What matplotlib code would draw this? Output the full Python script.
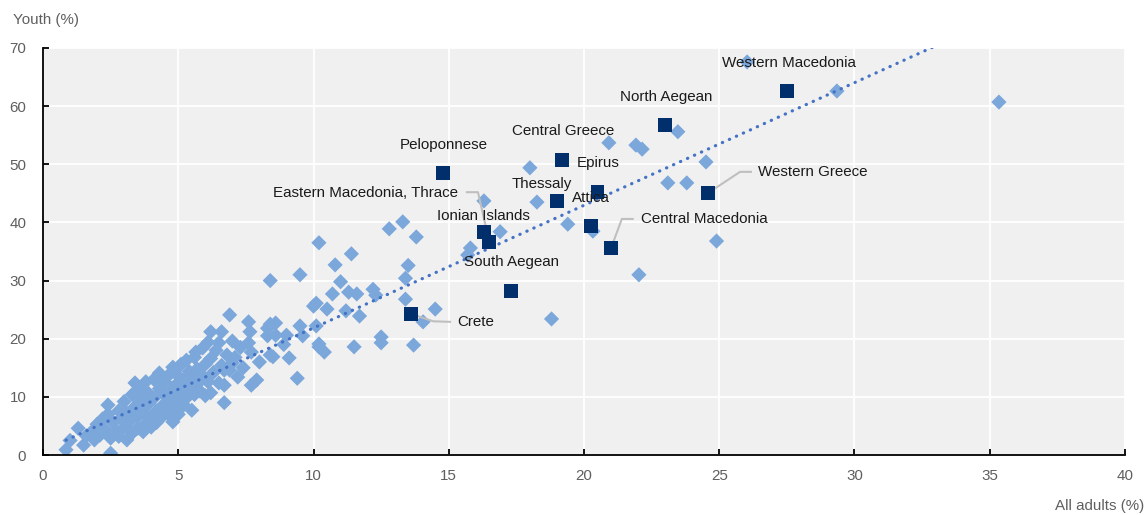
import matplotlib
matplotlib.use("Agg")
import matplotlib.pyplot as plt

plt.rcParams["font.family"] = ["Liberation Sans", "DejaVu Sans"]

# ------------------------------
# Data: OECD regions (diamonds)
# ------------------------------
oecd_cluster = [
    (0.85, 0.9), (1.0, 2.5), (1.3, 4.6), (1.5, 1.7), (1.6, 3.3), (1.8, 4.0),
    (1.9, 2.6), (2.0, 5.3), (2.1, 3.4), (2.2, 6.2), (2.3, 4.4), (2.4, 8.6),
    (2.4, 7.0), (2.5, 0.3), (2.5, 2.9), (2.6, 5.6), (2.7, 4.0), (2.8, 7.6),
    (2.8, 3.2), (2.9, 6.3), (3.0, 9.2), (3.0, 4.8), (3.1, 2.6), (3.1, 7.2),
    (3.2, 5.8), (3.3, 10.4), (3.3, 3.8), (3.4, 12.4), (3.4, 8.3), (3.5, 6.6),
    (3.5, 4.6), (3.6, 9.6), (3.6, 11.2), (3.7, 4.0), (3.7, 7.4), (3.8, 5.4),
    (3.8, 12.6), (3.9, 8.8), (3.9, 10.6), (4.0, 6.3), (4.0, 4.8), (4.1, 9.8),
    (4.1, 13.0), (4.2, 7.6), (4.2, 5.6), (4.3, 14.1), (4.3, 11.4), (4.4, 8.4),
    (4.4, 6.6), (4.5, 10.2), (4.5, 12.6), (4.6, 7.2), (4.6, 9.2), (4.7, 14.0),
    (4.7, 11.0), (4.8, 15.1), (4.8, 5.7), (4.8, 8.2), (4.9, 12.0), (4.9, 9.6),
    (5.0, 13.6), (5.0, 7.0), (5.1, 10.8), (5.1, 15.6), (5.2, 8.6), (5.2, 12.8),
    (5.3, 16.3), (5.3, 9.8), (5.4, 14.4), (5.4, 11.6), (5.5, 7.7), (5.5, 13.2),
    (5.6, 16.8), (5.6, 10.4), (5.65, 17.7), (5.7, 12.2), (5.7, 14.8), (5.8, 11.0),
    (5.9, 18.4), (5.9, 13.6), (6.0, 15.6), (6.0, 10.2), (6.1, 19.4), (6.1, 12.6),
    (6.2, 21.2), (6.2, 16.6), (6.2, 10.7), (6.3, 14.2), (6.4, 18.0), (6.5, 19.3),
    (6.5, 12.4), (6.6, 21.2), (6.6, 15.4), (6.7, 14.6), (6.7, 9.0), (6.7, 12.0),
    (6.8, 17.2), (6.9, 24.1), (6.9, 14.6), (7.0, 15.8), (7.0, 19.6),
]

oecd_spread = [
    (7.1, 16.8), (7.2, 13.4), (7.3, 18.5), (7.4, 15.0), (7.6, 22.9), (7.6, 19.3),
    (7.65, 21.2), (7.7, 17.7), (7.7, 12.0), (7.9, 12.9), (8.0, 16.0), (8.3, 21.8),
    (8.3, 20.5), (8.4, 22.5), (8.4, 17.2), (8.4, 30.0), (8.5, 16.9), (8.6, 22.7),
    (8.6, 20.6), (8.9, 19.0), (9.0, 20.6), (9.1, 16.7), (9.4, 13.2), (9.5, 22.2),
    (9.5, 31.0), (9.6, 20.5), (10.0, 25.6), (10.1, 26.1), (10.1, 22.2), (10.2, 36.5),
    (10.2, 19.1), (10.2, 18.6), (10.4, 17.7), (10.5, 25.1), (10.7, 27.7), (10.8, 32.7),
    (11.0, 29.8), (11.2, 24.8), (11.3, 28.0), (11.4, 34.6), (11.5, 18.6), (11.6, 27.7),
    (11.7, 23.9), (12.2, 28.5), (12.3, 27.5), (12.5, 20.3), (12.5, 19.3), (12.8, 38.9),
    (13.3, 40.1), (13.4, 30.4), (13.4, 26.8), (13.5, 32.6), (13.7, 18.9), (13.8, 37.5),
    (14.05, 22.9), (14.5, 25.1),
]

oecd_outliers = [
    (15.7, 34.4), (15.8, 35.6), (16.3, 43.7), (16.9, 38.4), (18.0, 49.4),
    (18.26, 43.5), (18.8, 23.4), (19.4, 39.7), (20.33, 38.5), (20.92, 53.7),
    (21.92, 53.3), (22.15, 52.6), (22.03, 31.0), (23.1, 46.8), (23.47, 55.6),
    (23.8, 46.8), (24.51, 50.4), (24.9, 36.8), (26.03, 67.6), (29.35, 62.6),
    (35.34, 60.7),
]

# ------------------------------
# Data: Greek regions (squares)
# ------------------------------
greek_names = [
    "Western Macedonia", "North Aegean", "Central Greece", "Epirus", "Thessaly",
    "Attica", "Central Macedonia", "Western Greece", "Peloponnese",
    "Eastern Macedonia, Thrace", "Ionian Islands", "South Aegean", "Crete",
]
greek_x = [27.5, 23.0, 19.2, 20.5, 19.0, 20.25, 21.0, 24.6, 14.8, 16.5, 16.3, 17.3, 13.6]
greek_y = [62.6, 56.8, 50.7, 45.2, 43.7, 39.4, 35.6, 45.1, 48.5, 36.6, 38.4, 28.2, 24.3]

# trend line
trend_x = [0.85, 35.34]
trend_y = [2.55, 75.3]

x_ticks = [0, 5, 10, 15, 20, 25, 30, 35, 40]
y_ticks = [0, 10, 20, 30, 40, 50, 60, 70]

# label placement: (x, y, ha, leader bend points or None)
label_layout = {
    "Western Macedonia": (27.56, 67.4, "center", None),
    "North Aegean": (23.03, 61.6, "center", None),
    "Central Greece": (19.24, 55.7, "center", None),
    "Epirus": (20.54, 50.2, "center", None),
    "Thessaly": (18.45, 46.6, "center", None),
    "Attica": (20.24, 44.2, "center", None),
    "Central Macedonia": (22.1, 40.6, "left", [(21.4, 40.6), (21.8, 40.6)]),
    "Western Greece": (26.43, 48.7, "left", [(25.77, 48.7), (26.17, 48.7)]),
    "Peloponnese": (14.82, 53.3, "center", None),
    "Eastern Macedonia, Thrace": (15.34, 45.1, "right", [(16.08, 45.2), (15.67, 45.2)]),
    "Ionian Islands": (16.3, 41.1, "center", None),
    "South Aegean": (17.32, 33.2, "center", None),
    "Crete": (15.3, 22.9, "left", [(14.42, 23.0), (15.05, 22.9)]),
}

DIAMOND = "#7ba7db"
NAVY = "#002f6c"
TREND = "#4472c4"
GREY_TXT = "#5f5f5f"
BG = "#f0f0f0"
FS = 10.9


def main():
    fig = plt.figure(figsize=(11.47, 5.15), dpi=100)
    ax = fig.add_axes([0.0375, 0.1165, 0.9433, 0.7903])
    ax.set_facecolor(BG)

    # OECD regions
    pts = oecd_cluster + oecd_spread + oecd_outliers
    ax.scatter([p[0] for p in pts], [p[1] for p in pts], marker="D", s=60,
               color=DIAMOND, edgecolors="none", zorder=3)

    # trend line
    ax.plot(trend_x, trend_y, color=TREND, lw=2.3, linestyle=(0, (0.1, 2.3)),
            dash_capstyle="round", zorder=4)

    # leader lines
    for name, gx, gy in zip(greek_names, greek_x, greek_y):
        bend = label_layout[name][3]
        if bend:
            ax.plot([gx] + [b[0] for b in bend], [gy] + [b[1] for b in bend],
                    color="#bfbfbf", lw=1.5, zorder=4.5)

    # Greek regions
    ax.scatter(greek_x, greek_y, marker="s", s=100, color=NAVY,
               edgecolors="none", zorder=5)

    for name in greek_names:
        lx, ly, ha, _ = label_layout[name]
        ax.text(lx, ly, name, ha=ha, va="center", fontsize=FS,
                color="#1a1a1a", zorder=6)

    ax.set_xlim(0, 40)
    ax.set_ylim(0, 70)
    ax.set_xticks(x_ticks)
    ax.set_yticks(y_ticks)
    ax.grid(True, color="white", lw=1.3)
    ax.set_axisbelow(True)

    for side in ["top", "right"]:
        ax.spines[side].set_visible(False)
    for side in ["left", "bottom"]:
        ax.spines[side].set_color("black")
        ax.spines[side].set_linewidth(1.3)
        ax.spines[side].set_zorder(7)

    ax.tick_params(direction="in", length=4, width=1.3, color="black",
                   labelsize=FS, labelcolor=GREY_TXT)
    ax.tick_params(axis="y", pad=12)
    ax.tick_params(axis="x", pad=10)

    fig.text(0.011, 0.961, "Youth (%)", fontsize=FS, color=GREY_TXT,
             ha="left", va="center")
    fig.text(0.998, 0.017, "All adults (%)", fontsize=FS, color=GREY_TXT,
             ha="right", va="center")

    fig.savefig("out.png", dpi=100)


if __name__ == "__main__":
    main()
